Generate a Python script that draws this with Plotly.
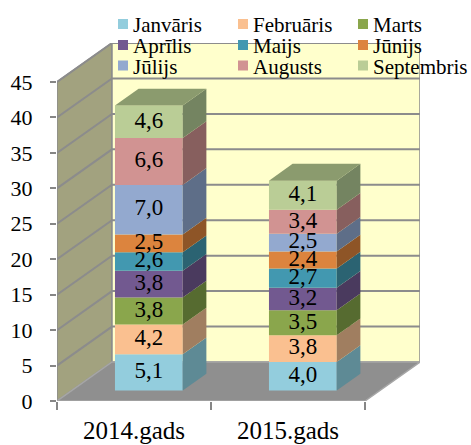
import plotly.graph_objects as go

# ---------------- data ----------------
categories = ["2014.gads", "2015.gads"]
months = ["Janvāris", "Februāris", "Marts", "Aprīlis", "Maijs", "Jūnijs",
          "Jūlijs", "Augusts", "Septembris"]
values_2014 = [5.1, 4.2, 3.8, 3.8, 2.6, 2.5, 7.0, 6.6, 4.6]
values_2015 = [4.0, 3.8, 3.5, 3.2, 2.7, 2.4, 2.5, 3.4, 4.1]
y_ticks = [0, 5, 10, 15, 20, 25, 30, 35, 40, 45]

front_colors = ["#93CDDD", "#FAC090", "#8AA64C", "#725990", "#4298B0",
                "#DC843E", "#93A9CF", "#D19392", "#BACD96"]
side_colors = ["#5E8A95", "#A07E60", "#566B30", "#4A3A5E", "#2B6372",
               "#8E5527", "#5E6E88", "#875F5E", "#748461"]
top_color = "#8B9B6E"

# ---------------- geometry (layout constants) ----------------
W, H = 471, 445
ML, MR, MT, MB = 57, 51, 43, 44
PW, PH = W - ML - MR, H - MT - MB
YMAX = 45
DX = 55 / 154          # depth in category units
DY = 39 / (PH / 50.5)  # depth in value units
F1, F2 = 0.27, 0.70    # bar front / back depth fraction
BW = 0.44              # bar width in category units
XR = [-0.5, 1.5 + DX]
YR = [0, YMAX + DY]
FONT = "Liberation Serif, Times New Roman, serif"
GRID = "#8C8C8C"

series = [values_2014, values_2015]

fig = go.Figure()

# front faces of stacked bars
for m, name in enumerate(months):
    xs, bases, ys = [], [], []
    for i, vals in enumerate(series):
        xs.append(i + F1 * DX)
        bases.append(sum(vals[:m]) + F1 * DY)
        ys.append(vals[m])
    fig.add_trace(go.Bar(x=xs, y=ys, base=bases, width=BW, name=name,
                         marker=dict(color=front_colors[m], line=dict(width=0)),
                         showlegend=False, hoverinfo="skip"))

# side faces and top faces
sdx, sdy = (F2 - F1) * DX, (F2 - F1) * DY
for i, vals in enumerate(series):
    xl = i + F1 * DX - BW / 2
    xr = i + F1 * DX + BW / 2
    for m in range(len(months)):
        b = sum(vals[:m]) + F1 * DY
        t = b + vals[m]
        fig.add_trace(go.Scatter(
            x=[xr, xr + sdx, xr + sdx, xr, xr],
            y=[b, b + sdy, t + sdy, t, b],
            fill="toself", mode="lines", line=dict(width=0, color=side_colors[m]),
            fillcolor=side_colors[m], showlegend=False, hoverinfo="skip"))
    T = sum(vals) + F1 * DY
    fig.add_trace(go.Scatter(
        x=[xl, xr, xr + sdx, xl + sdx, xl],
        y=[T, T, T + sdy, T + sdy, T],
        fill="toself", mode="lines", line=dict(width=0, color=top_color),
        fillcolor=top_color, showlegend=False, hoverinfo="skip"))

# data labels
for i, vals in enumerate(series):
    tx, ty, tt = [], [], []
    for m in range(len(months)):
        b = sum(vals[:m]) + F1 * DY
        tx.append(i + F1 * DX)
        ty.append(b + vals[m] / 2)
        tt.append(f"{vals[m]:.1f}".replace(".", ","))
    fig.add_trace(go.Scatter(x=tx, y=ty, text=tt, mode="text",
                             textfont=dict(family=FONT, size=23, color="black"),
                             showlegend=False, hoverinfo="skip", cliponaxis=False))

# ---------------- walls, floor, gridlines ----------------
shapes = []
x0, x1 = XR[0], 1.5
shapes.append(dict(type="path", layer="below",
                   path=f"M{x0},0 L{x0},{YMAX} L{x0+DX},{YMAX+DY} L{x0+DX},{DY} Z",
                   fillcolor="#A2A27F", line=dict(color=GRID, width=1.5)))
shapes.append(dict(type="rect", layer="below", x0=x0 + DX, x1=x1 + DX, y0=DY, y1=YMAX + DY,
                   fillcolor="#FFFFCC", line=dict(color=GRID, width=1.5)))
shapes.append(dict(type="path", layer="below",
                   path=f"M{x0},0 L{x1},0 L{x1+DX},{DY} L{x0+DX},{DY} Z",
                   fillcolor="#8F8F8F", line=dict(color="#A6A6A6", width=1.5)))
for v in y_ticks[1:]:
    shapes.append(dict(type="path", layer="below",
                       path=f"M{x0},{v} L{x0+DX},{v+DY} L{x1+DX},{v+DY}",
                       line=dict(color=GRID, width=2)))

# ---------------- legend (drawn as text + swatches) ----------------
def px2x(px):
    return (px - ML) / PW


def py2y(py):
    return (H - MB - py) / PH


shapes.append(dict(type="rect", xref="paper", yref="paper", layer="below",
                   x0=px2x(110), x1=px2x(471), y0=py2y(76), y1=py2y(6),
                   fillcolor="white", line=dict(width=0)))
annotations = []
col_px = [118, 238, 358]
row_py = [24, 45, 65.5]
for k, name in enumerate(months):
    r, c = divmod(k, 3)
    cx, cy = col_px[c], row_py[r]
    shapes.append(dict(type="rect", xref="paper", yref="paper", layer="above",
                       x0=px2x(cx), x1=px2x(cx + 10), y0=py2y(cy + 5), y1=py2y(cy - 5),
                       fillcolor=front_colors[k], line=dict(width=0)))
    annotations.append(dict(xref="paper", yref="paper", x=px2x(cx + 13), y=py2y(cy + 1),
                            text=name, showarrow=False, xanchor="left", yanchor="middle",
                            font=dict(family=FONT, size=21, color="black")))

fig.update_layout(
    width=W, height=H,
    margin=dict(l=ML, r=MR, t=MT, b=MB, autoexpand=False),
    paper_bgcolor="white", plot_bgcolor="rgba(0,0,0,0)",
    barmode="overlay",
    showlegend=False,
    shapes=shapes, annotations=annotations,
    xaxis=dict(range=XR, tickvals=[-0.5, 0.5, 1.5], showticklabels=False,
               ticks="outside", ticklen=8, tickwidth=2, tickcolor="#868686",
               automargin=False,
               showgrid=False, zeroline=False, showline=False, fixedrange=True),
    xaxis2=dict(range=XR, overlaying="x", anchor="y", side="bottom",
                tickvals=[0, 1], ticktext=categories, ticks="",
                tickfont=dict(family=FONT, size=25, color="black"),
                ticklabelstandoff=12, automargin=False,
                showgrid=False, zeroline=False, showline=False),
    yaxis=dict(range=YR, tickvals=y_ticks, ticks="outside", ticklen=6, tickwidth=2,
               tickcolor="#868686", ticklabelstandoff=13, automargin=False,
               tickfont=dict(family=FONT, size=22, color="black"),
               showgrid=False, zeroline=False, showline=False),
)
# invisible trace to activate xaxis2
fig.add_trace(go.Scatter(x=[0, 1], y=[0, 0], xaxis="x2", mode="markers",
                         marker=dict(opacity=0), showlegend=False, hoverinfo="skip"))

fig.write_html("out.html", config={"displayModeBar": False},
               post_script="document.body.style.margin='0px';document.body.style.padding='0px';")
